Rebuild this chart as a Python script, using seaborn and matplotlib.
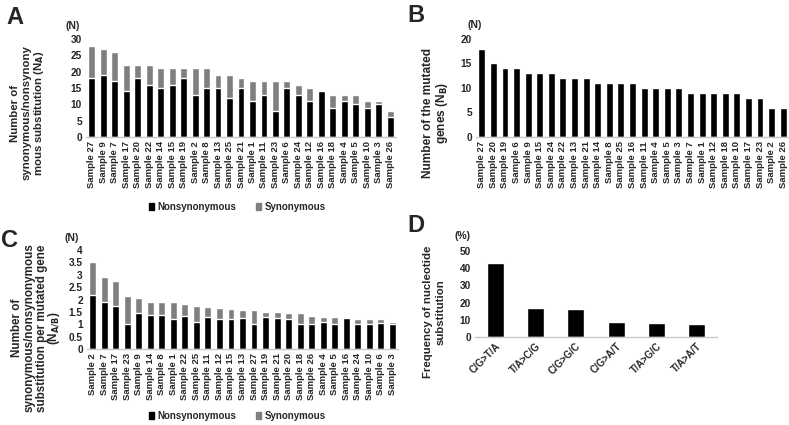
import numpy as np
import matplotlib
matplotlib.use('Agg')
import matplotlib.pyplot as plt
import seaborn as sns
from matplotlib.patches import Patch

sns.set_style('white')
plt.rcParams['font.family'] = ['Liberation Sans', 'DejaVu Sans']
plt.rcParams['font.weight'] = 'bold'

# Panel A: substitutions per sample
samples_a = ['Sample 27', 'Sample 9', 'Sample 7', 'Sample 17', 'Sample 20', 'Sample 22', 'Sample 14',
             'Sample 15', 'Sample 19', 'Sample 2', 'Sample 8', 'Sample 13', 'Sample 25', 'Sample 21',
             'Sample 1', 'Sample 11', 'Sample 23', 'Sample 6', 'Sample 24', 'Sample 12', 'Sample 16',
             'Sample 18', 'Sample 4', 'Sample 5', 'Sample 10', 'Sample 3', 'Sample 26']
nonsyn_a = [18, 19, 17, 14, 18, 16, 15, 16, 18, 13, 15, 15, 12, 15, 11, 13, 8, 15, 13, 11, 14, 9, 11, 10, 9, 10, 6]
syn_a = [10, 8, 9, 8, 4, 6, 6, 5, 3, 8, 6, 4, 7, 3, 6, 4, 9, 2, 3, 4, 0, 4, 2, 3, 2, 1, 2]

# Panel B: mutated genes per sample
samples_b = ['Sample 27', 'Sample 20', 'Sample 19', 'Sample 6', 'Sample 9', 'Sample 15', 'Sample 24',
             'Sample 22', 'Sample 13', 'Sample 21', 'Sample 14', 'Sample 8', 'Sample 25', 'Sample 16',
             'Sample 11', 'Sample 4', 'Sample 5', 'Sample 3', 'Sample 7', 'Sample 1', 'Sample 12',
             'Sample 18', 'Sample 10', 'Sample 17', 'Sample 23', 'Sample 2', 'Sample 26']
genes_b = [18, 15, 14, 14, 13, 13, 13, 12, 12, 12, 11, 11, 11, 11, 10, 10, 10, 10, 9, 9, 9, 9, 9, 8, 8, 6, 6]

# Panel C: substitutions per mutated gene
samples_c = ['Sample 2', 'Sample 7', 'Sample 17', 'Sample 23', 'Sample 9', 'Sample 14', 'Sample 8',
             'Sample 1', 'Sample 22', 'Sample 25', 'Sample 11', 'Sample 12', 'Sample 15', 'Sample 13',
             'Sample 27', 'Sample 19', 'Sample 21', 'Sample 20', 'Sample 18', 'Sample 26', 'Sample 4',
             'Sample 5', 'Sample 16', 'Sample 24', 'Sample 10', 'Sample 6', 'Sample 3']
nonsyn_c = [2.17, 1.89, 1.75, 1.0, 1.46, 1.36, 1.36, 1.22, 1.33, 1.09, 1.3, 1.22, 1.23, 1.25,
            1.0, 1.29, 1.25, 1.2, 1.0, 1.0, 1.1, 1.0, 1.27, 1.0, 1.0, 1.07, 1.0]
syn_c = [1.33, 1.0, 1.0, 1.13, 0.62, 0.55, 0.55, 0.67, 0.5, 0.64, 0.4, 0.45, 0.38, 0.33,
         0.56, 0.21, 0.25, 0.27, 0.44, 0.33, 0.2, 0.3, 0.0, 0.23, 0.22, 0.14, 0.1]

# Panel D: nucleotide substitution frequency (%)
subst_d = ['C/G>T/A', 'T/A>C/G', 'C/G>G/C', 'C/G>A/T', 'T/A>G/C', 'T/A>A/T']
freq_d = [43, 17, 16, 9, 8, 7.5]

W, H = 789, 425
fig = plt.figure(figsize=(W / 100, H / 100), dpi=100)


def px_axes(x0, x1, y_top, y_bot):
    return fig.add_axes([x0 / W, 1 - y_bot / H, (x1 - x0) / W, (y_bot - y_top) / H])


def style(ax, ymax, step, rot=90, xfs=6.8):
    ax.set_ylim(0, ymax)
    ticks = np.arange(0, ymax + step / 2, step)
    ax.set_yticks(ticks)
    ax.set_yticklabels([f'{v:g}' for v in ticks], fontsize=7.3, fontweight='bold')
    for s in ['top', 'right', 'left']:
        ax.spines[s].set_visible(False)
    ax.spines['bottom'].set_color('#c8c8c8')
    ax.spines['bottom'].set_linewidth(1)
    ax.tick_params(axis='both', length=0, pad=3)
    ax.set_xlabel('')
    ax.set_ylabel('')
    for lab in ax.get_xticklabels():
        lab.set_rotation(rot)
        lab.set_fontsize(xfs)
        lab.set_fontweight('bold')
    if rot != 90:
        for lab in ax.get_xticklabels():
            lab.set_ha('right')
            lab.set_rotation_mode('anchor')


def vlabel(lines, cx, cy, fs, gap=12.5):
    # rotated multi-line label, one text per line
    n = len(lines)
    for i, line in enumerate(lines):
        x = cx + (i - (n - 1) / 2) * gap
        fig.text(x / W, 1 - cy / H, line, rotation=90, fontsize=fs, fontweight='bold',
                 ha='center', va='center')


GRAY = '#7f7f7f'

# A
axA = px_axes(86, 396, 39, 137)
tot_a = [n + s for n, s in zip(nonsyn_a, syn_a)]
sns.barplot(x=samples_a, y=tot_a, color=GRAY, width=0.6, ax=axA, saturation=1)
sns.barplot(x=samples_a, y=nonsyn_a, color='black', width=0.6, ax=axA, saturation=1)
style(axA, 30, 5)
axA.set_xlim(-0.5, 26.5)

# B
axB = px_axes(476, 789, 39, 137)
sns.barplot(x=samples_b, y=genes_b, color='black', width=0.6, ax=axB, saturation=1)
style(axB, 20, 5)
axB.set_xlim(-0.5, 26.5)

# C
axC = px_axes(87, 398, 250, 349)
tot_c = [n + s for n, s in zip(nonsyn_c, syn_c)]
sns.barplot(x=samples_c, y=tot_c, color=GRAY, width=0.6, ax=axC, saturation=1)
sns.barplot(x=samples_c, y=nonsyn_c, color='black', width=0.6, ax=axC, saturation=1)
style(axC, 4, 0.5)
axC.set_xlim(-0.5, 26.5)

# D
axD = px_axes(475, 717, 251, 337)
sns.barplot(x=subst_d, y=freq_d, color='black', width=0.42, ax=axD, saturation=1)
style(axD, 50, 10, rot=45, xfs=7)
axD.set_xlim(-0.5, 5.5)

# panel letters and units
for txt, x, y in [('A', 15, 17), ('B', 416, 16), ('C', 9, 241), ('D', 416, 226)]:
    fig.text(x / W, 1 - y / H, txt, fontsize=17, fontweight='bold', va='center', ha='center')
for txt, x, y in [('(N)', 73, 26), ('(N)', 475, 25), ('(N)', 72, 238), ('(%)', 463, 236)]:
    fig.text(x / W, 1 - y / H, txt, fontsize=7.5, fontweight='bold', va='center', ha='center')

# y labels
vlabel(['Number of', 'synonymous/nonsynony', 'mous substitution (N$_\\mathbf{A}$)'], 27, 113, 8.2)
vlabel(['Number of the mutated', 'genes (N$_\\mathbf{B}$)'], 435, 113, 8.6, gap=13)
vlabel(['Number of', 'synonymous/nonsynonymous', 'substitution per mutated gene', '(N$_\\mathbf{A/B}$)'],
       36, 328, 8.4)
vlabel(['Frequency of nucleotide', 'substitution'], 434, 312, 8.2)

# legends
handles = [Patch(color='black', label='Nonsynonymous'), Patch(color=GRAY, label='Synonymous')]
for y in [207, 416]:
    fig.legend(handles=handles, loc='center', bbox_to_anchor=(237 / W, 1 - y / H), ncol=2, frameon=False,
               handlelength=0.6, handleheight=0.6, handletextpad=0.3, columnspacing=2.0,
               prop={'weight': 'bold', 'size': 7})

fig.savefig('out.png', dpi=100, facecolor='white')
